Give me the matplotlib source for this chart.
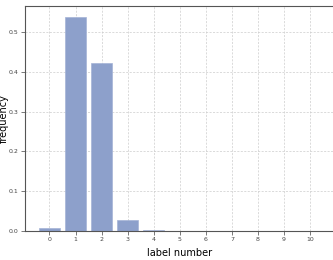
import matplotlib
matplotlib.use("Agg")
import matplotlib.pyplot as plt

labels = list(range(11))
freqs = [0.007, 0.539, 0.422, 0.028, 0.0015, 0.0, 0.0, 0.0, 0.0, 0.0, 0.0]
yticks = [0.0, 0.1, 0.2, 0.3, 0.4, 0.5]

fig = plt.figure(figsize=(3.33, 2.6), dpi=100)
ax = fig.add_axes([0.075, 0.1115, 0.93, 0.8655])
ax.bar(labels, freqs, width=0.8, color="#8DA0CB", edgecolor="#a4b3d6", linewidth=0.5, zorder=2)
ax.set_xticks(labels)
ax.set_yticks(yticks)
ax.set_yticklabels([f"{v:.1f}" for v in yticks])
ax.tick_params(labelsize=4.5, length=3, width=0.5, colors="#444444", pad=1.5)
ax.grid(True, linestyle=(0, (3, 2)), color="#cccccc", linewidth=0.5, zorder=0)
for s in ax.spines.values():
    s.set_color("#555555")
    s.set_linewidth(0.8)
ax.set_xlabel("label number", fontsize=7)
ax.set_ylabel("frequency", fontsize=7)
ax.yaxis.set_label_coords(-0.053, 0.5)
ax.xaxis.set_label_coords(0.5, -0.076)
fig.savefig("out.png", dpi=100)
